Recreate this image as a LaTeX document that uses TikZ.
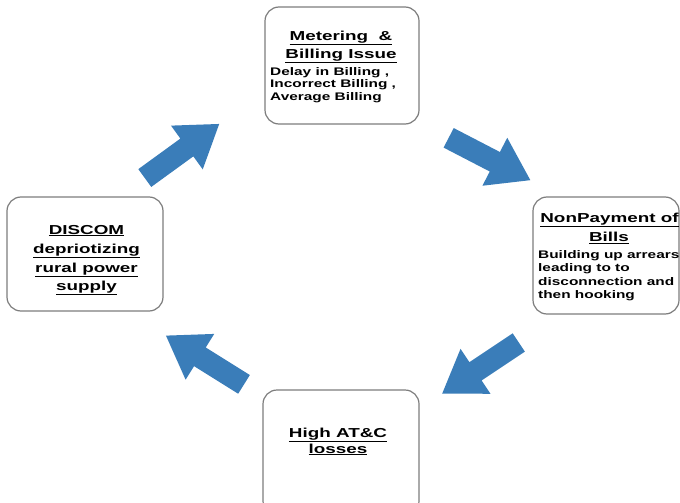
\documentclass[tikz,border=0pt]{standalone}
\usepackage{fontspec}
\setmainfont[FakeStretch=1.4]{Liberation Sans}
\newfontfamily\ttlfont[FakeStretch=1.45]{Liberation Sans}
\definecolor{arrowblue}{RGB}{58,125,185}
\definecolor{boxgray}{RGB}{125,125,125}
\tikzset{
  box/.style={draw=boxgray, line width=1.2pt, rounded corners=14pt, fill=white, inner sep=0pt},
  ttl/.style={anchor=base, font=\ttlfont\fontsize{13}{15}\selectfont\bfseries, inner sep=0pt},
  sub/.style={anchor=base west, font=\fontsize{11}{12}\selectfont\bfseries, inner sep=0pt},
  barrow/.pic={\fill[arrowblue] (-46,11) -- (6,11) -- (6,27) -- (46,0) -- (6,-27) -- (6,-11) -- (-46,-11) -- cycle;}
}
\begin{document}
\begin{tikzpicture}[x=1pt,y=-1pt]
\useasboundingbox (0,0) rectangle (680,503);
\clip (0,0) rectangle (680,503);
\fill[white] (0,0) rectangle (680,503);
% boxes
\node[box, minimum width=154pt, minimum height=117pt] (top) at (342,65.5) {};
\node[box, minimum width=146pt, minimum height=117pt] (right) at (606,255.5) {};
\node[box, minimum width=156pt, minimum height=114pt] (left) at (85,254) {};
\node[box, minimum width=156pt, minimum height=125pt] (bottom) at (341,452.5) {};
% top box text
\node[ttl] (t1) at (341,40.5) {\underline{Metering\ \ \&}};
\node[ttl] (t2) at (341,58.5) {\underline{Billing Issue}};
\node[sub] (t3) at (270,76) {Delay in Billing ,};
\node[sub] (t4) at (270,88) {Incorrect Billing ,};
\node[sub] (t5) at (270,100) {Average Billing};
% right box text
\node[ttl] (r1) at (609.5,222.5) {\underline{NonPayment of}};
\node[ttl] (r2) at (609,241.5) {\underline{Bills}};
\node[sub] (r3) at (538,258) {Building up arrears};
\node[sub] (r4) at (538,271.5) {leading to to};
\node[sub] (r5) at (538,285) {disconnection and};
\node[sub] (r6) at (538,298.5) {then hooking};
% left box text
\node[ttl] (l1) at (86.5,234) {\underline{DISCOM}};
\node[ttl] (l2) at (86.5,253) {\underline{depriotizing}};
\node[ttl] (l3) at (86.5,272) {\underline{rural power}};
\node[ttl] (l4) at (86.5,290) {\underline{supply}};
% bottom box text
\node[ttl] (b1) at (338,437) {\underline{High AT\&C}};
\node[ttl] (b2) at (338,453) {\underline{losses}};
% arrows
\pic[rotate=36] (a1) at (182,151) {barrow};
\pic[rotate=-27.4] (a2) at (489.5,159) {barrow};
\pic[rotate=213.7] (a3) at (480.5,368) {barrow};
\pic[rotate=148] (a4) at (205,360) {barrow};
\end{tikzpicture}
\end{document}
